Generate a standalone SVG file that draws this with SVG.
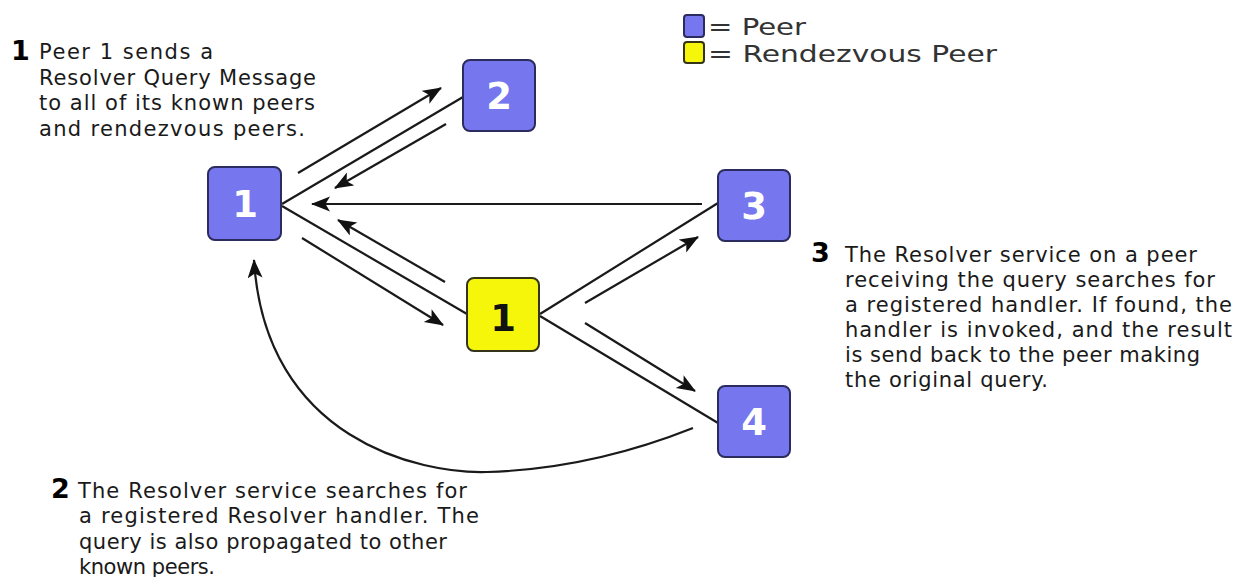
<svg xmlns="http://www.w3.org/2000/svg" width="1243" height="577" viewBox="0 0 1243 577">
  <defs>
    <marker id="head" markerUnits="userSpaceOnUse" markerWidth="20" markerHeight="16" refX="18" refY="7.5" orient="auto">
      <path d="M0,0 L19,7.5 L0,15 L4.5,7.5 z" fill="#111"/>
    </marker>
  </defs>
  <style>
    .peer { fill: #7676ef; stroke: #2b2b5e; stroke-width: 2; }
    .rdv { fill: #f6f60a; stroke: #34341a; stroke-width: 2; }
    .lbl { font-family: "DejaVu Sans", Verdana, sans-serif; font-weight: bold; font-size: 37px; text-anchor: middle; }
    .white { fill: #ffffff; }
    .black { fill: #111111; }
    .note { font-family: "DejaVu Sans", Verdana, sans-serif; font-size: 21px; fill: #1a1a1a; }
    .step { font-family: "DejaVu Sans", "Arial Black", sans-serif; font-weight: 900; font-size: 27px; fill: #000; }
    .legend { font-family: "DejaVu Sans", sans-serif; font-size: 23px; fill: #333; }
    .wire { fill: none; stroke: #1a1a1a; stroke-width: 2.2; }
    .arrow { fill: none; stroke: #1a1a1a; stroke-width: 2.2; marker-end: url(#head); }
  </style>
  <rect width="1243" height="577" fill="#ffffff"/>

  <!-- legend -->
  <g id="legend">
    <rect class="peer" x="684" y="15" width="20" height="22" rx="3"/>
    <rect class="rdv" x="684" y="42" width="20" height="21" rx="3"/>
    <text class="legend" x="708" y="35" textLength="98" lengthAdjust="spacingAndGlyphs">= Peer</text>
    <text class="legend" x="708" y="62" textLength="289" lengthAdjust="spacingAndGlyphs">= Rendezvous Peer</text>
  </g>

  <!-- connectors -->
  <g id="connectors">
    <line class="wire" x1="282" y1="204" x2="463" y2="97"/>
    <line class="wire" x1="282" y1="206" x2="467" y2="314"/>
    <line class="wire" x1="540" y1="314" x2="718" y2="203"/>
    <line class="wire" x1="540" y1="316" x2="718" y2="423"/>
    <line class="arrow" x1="298" y1="173" x2="441" y2="88"/>
    <line class="arrow" x1="446" y1="124" x2="335" y2="188"/>
    <line class="arrow" x1="702" y1="204" x2="312" y2="204"/>
    <line class="arrow" x1="445" y1="282" x2="338" y2="220"/>
    <line class="arrow" x1="302" y1="238" x2="443" y2="325"/>
    <line class="arrow" x1="585" y1="303" x2="698" y2="237"/>
    <line class="arrow" x1="585" y1="323" x2="695" y2="391"/>
    <path class="arrow" d="M693,428 Q590,469 487,472 C420,474 265,440 254,260"/>
  </g>

  <!-- nodes -->
  <g id="peer1">
    <rect class="peer" x="208" y="167" width="73" height="73" rx="7"/>
    <text class="lbl white" x="245" y="217">1</text>
  </g>
  <g id="peer2">
    <rect class="peer" x="463" y="60" width="72" height="71" rx="7"/>
    <text class="lbl white" x="499" y="109">2</text>
  </g>
  <g id="peer3">
    <rect class="peer" x="718" y="170" width="72" height="71" rx="7"/>
    <text class="lbl white" x="754" y="219">3</text>
  </g>
  <g id="peer4">
    <rect class="peer" x="718" y="386" width="72" height="71" rx="7"/>
    <text class="lbl white" x="754" y="435">4</text>
  </g>
  <g id="rendezvous1">
    <rect class="rdv" x="467" y="278" width="72" height="73" rx="7"/>
    <text class="lbl black" x="503" y="331">1</text>
  </g>

  <!-- step notes -->
  <g id="note1">
    <text class="step" x="11" y="60">1</text>
    <text class="note" x="39" y="59" textLength="174">Peer 1 sends a</text>
    <text class="note" x="39" y="85" textLength="277">Resolver Query Message</text>
    <text class="note" x="39" y="110" textLength="276">to all of its known peers</text>
    <text class="note" x="39" y="136" textLength="266">and rendezvous peers.</text>
  </g>
  <g id="note2">
    <text class="step" x="51" y="498">2</text>
    <text class="note" x="78" y="498" textLength="389">The Resolver service searches for</text>
    <text class="note" x="79" y="523" textLength="400">a registered Resolver handler. The</text>
    <text class="note" x="79" y="549" textLength="368">query is also propagated to other</text>
    <text class="note" x="79" y="574" textLength="136">known peers.</text>
  </g>
  <g id="note3">
    <text class="step" x="811" y="262">3</text>
    <text class="note" x="845" y="262" textLength="352">The Resolver service on a peer</text>
    <text class="note" x="845" y="287" textLength="370">receiving the query searches for</text>
    <text class="note" x="845" y="312" textLength="387">a registered handler. If found, the</text>
    <text class="note" x="845" y="337" textLength="387">handler is invoked, and the result</text>
    <text class="note" x="845" y="362" textLength="355">is send back to the peer making</text>
    <text class="note" x="845" y="387" textLength="203">the original query.</text>
  </g>
</svg>
